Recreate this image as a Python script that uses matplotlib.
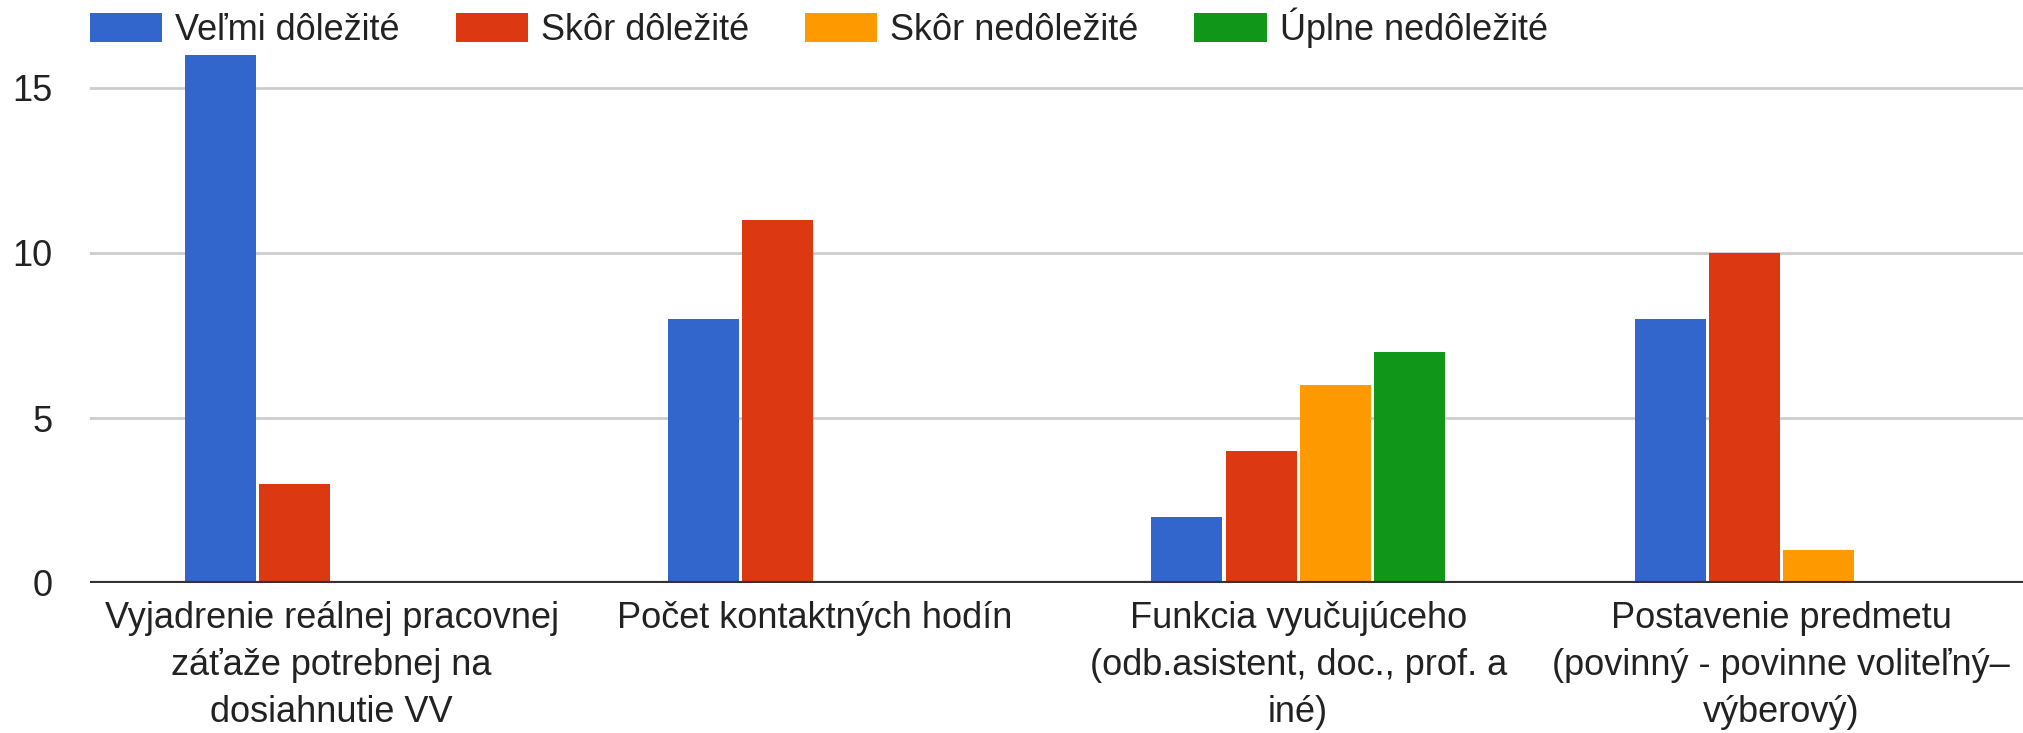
import matplotlib
matplotlib.use("Agg")
import matplotlib.pyplot as plt
import numpy as np

categories = [
    "Vyjadrenie reálnej pracovnej\nzáťaže potrebnej na\ndosiahnutie VV",
    "Počet kontaktných hodín",
    "Funkcia vyučujúceho\n(odb.asistent, doc., prof. a\niné)",
    "Postavenie predmetu\n(povinný - povinne voliteľný–\nvýberový)",
]
series_names = ["Veľmi dôležité", "Skôr dôležité", "Skôr nedôležité", "Úplne nedôležité"]
velmi = [16, 8, 2, 8]
skor_dol = [3, 11, 4, 10]
skor_nedol = [0, 0, 6, 1]
uplne_nedol = [0, 0, 7, 0]
yticks = [0, 5, 10, 15]

colors = ["#3366cc", "#dc3912", "#ff9900", "#109618"]

plt.rcParams['font.family'] = ['Liberation Sans', 'DejaVu Sans']
W, H = 2023, 733
FS = 26
fig = plt.figure(figsize=(W / 100, H / 100), dpi=100)
left, right = 90 / W, 1.0
bottom = (H - 583) / H
top_px = 40
ax_h_px = 583 - top_px
ax = fig.add_axes([left, bottom, right - left, ax_h_px / H])
px_per_unit = 33.0
ax.set_ylim(0, ax_h_px / px_per_unit)
ax.set_xlim(-0.5, len(categories) - 0.5)

x = np.arange(len(categories))
slot = 0.1535
bw = 0.147
data = [velmi, skor_dol, skor_nedol, uplne_nedol]
for i, (vals, name, c) in enumerate(zip(data, series_names, colors)):
    ax.bar(x + (i - 1.5) * slot, vals, width=bw, color=c, label=name, zorder=3)

ax.set_yticks(yticks)
ax.set_yticklabels([str(t) for t in yticks], fontsize=FS, color="#222222")
ax.yaxis.grid(True, color="#cccccc", linewidth=2, zorder=0)
ax.axhline(0, color="#333333", linewidth=3, zorder=4)
ax.tick_params(axis='y', length=0, pad=27)
ax.tick_params(axis='x', length=0, pad=13)
ax.set_xticks(x)
ax.set_xticklabels(categories, fontsize=FS, color="#222222", linespacing=1.45)
for s in ax.spines.values():
    s.set_visible(False)

leg = ax.legend(loc='center left', bbox_to_anchor=(0.0, 1.0 + 12 / ax_h_px), ncol=4, frameon=False,
                fontsize=FS, handlelength=2.0, handleheight=0.85, handletextpad=0.36,
                columnspacing=1.55, borderaxespad=0.0, borderpad=0.0)
for t in leg.get_texts():
    t.set_color("#222222")

fig.savefig("out.png", dpi=100, facecolor="white")
